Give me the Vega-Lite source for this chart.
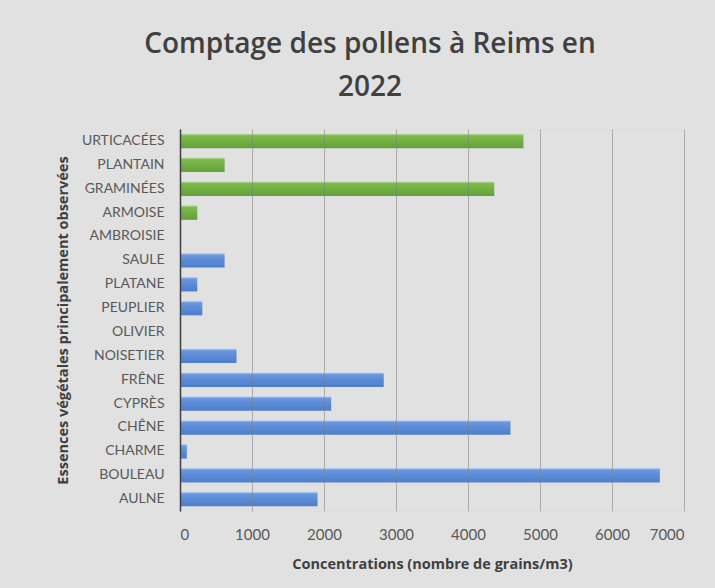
{
  "$schema": "https://vega.github.io/schema/vega-lite/v6.json",
  "autosize": "none",
  "width": 504,
  "height": 382,
  "padding": {"left": 180, "top": 129, "right": 31, "bottom": 77},
  "background": "#e1e1e1",
  "title": {
    "text": ["Comptage des pollens à Reims en", "2022"],
    "anchor": "middle",
    "frame": "group",
    "dx": -62,
    "offset": 27,
    "font": "Open Sans",
    "fontSize": 28,
    "fontWeight": 600,
    "color": "#404040",
    "lineHeight": 43
  },
  "data": {
    "values": [
      {"essence": "URTICACÉES", "concentration": 4770, "groupe": "h"},
      {"essence": "PLANTAIN", "concentration": 620, "groupe": "h"},
      {"essence": "GRAMINÉES", "concentration": 4365, "groupe": "h"},
      {"essence": "ARMOISE", "concentration": 240, "groupe": "h"},
      {"essence": "AMBROISIE", "concentration": 0, "groupe": "h"},
      {"essence": "SAULE", "concentration": 620, "groupe": "a"},
      {"essence": "PLATANE", "concentration": 240, "groupe": "a"},
      {"essence": "PEUPLIER", "concentration": 310, "groupe": "a"},
      {"essence": "OLIVIER", "concentration": 0, "groupe": "a"},
      {"essence": "NOISETIER", "concentration": 785, "groupe": "a"},
      {"essence": "FRÊNE", "concentration": 2830, "groupe": "a"},
      {"essence": "CYPRÈS", "concentration": 2100, "groupe": "a"},
      {"essence": "CHÊNE", "concentration": 4590, "groupe": "a"},
      {"essence": "CHARME", "concentration": 95, "groupe": "a"},
      {"essence": "BOULEAU", "concentration": 6665, "groupe": "a"},
      {"essence": "AULNE", "concentration": 1910, "groupe": "a"}
    ]
  },
  "mark": {"type": "bar", "cornerRadius": 0},
  "encoding": {
    "y": {
      "field": "essence",
      "type": "nominal",
      "sort": null,
      "scale": {"paddingInner": 0.39, "paddingOuter": 0.195},
      "axis": {
        "title": "Essences végétales principalement observées",
        "titleFont": "Open Sans",
        "titleFontSize": 14.5,
        "titleFontWeight": "bold",
        "titleColor": "#404040",
        "titlePadding": 11,
        "labelFont": "Lato",
        "labelFontSize": 14,
        "labelColor": "#595959",
        "labelPadding": 16,
        "ticks": false,
        "domain": true,
        "domainColor": "#404040",
        "domainWidth": 1.5,
        "grid": false,
        "zindex": 1
      }
    },
    "x": {
      "field": "concentration",
      "type": "quantitative",
      "scale": {"domain": [0, 7000], "nice": false},
      "axis": {
        "title": "Concentrations (nombre de grains/m3)",
        "values": [0, 1000, 2000, 3000, 4000, 5000, 6000, 7000],
        "format": "d",
        "titleFont": "Open Sans",
        "titleFontSize": 14.5,
        "titleFontWeight": "bold",
        "titleColor": "#404040",
        "titlePadding": 15,
        "labelFont": "Lato",
        "labelFontSize": 15,
        "labelColor": "#595959",
        "labelPadding": 16,
        "ticks": false,
        "domain": false,
        "grid": true,
        "gridColor": "#7f7f7f",
        "gridOpacity": 0.55,
        "gridWidth": 1,
        "zindex": 1
      }
    },
    "fill": {
      "condition": {
        "test": "datum.groupe === 'h'",
        "value": {
          "x1": 0, "y1": 0, "x2": 0, "y2": 1,
          "gradient": "linear",
          "stops": [
            {"offset": 0, "color": "#c4e3a6"},
            {"offset": 0.14, "color": "#7dbb4f"},
            {"offset": 0.5, "color": "#72b043"},
            {"offset": 1, "color": "#65a03b"}
          ]
        }
      },
      "value": {
        "x1": 0, "y1": 0, "x2": 0, "y2": 1,
        "gradient": "linear",
        "stops": [
          {"offset": 0, "color": "#c5d8f5"},
          {"offset": 0.14, "color": "#6b99df"},
          {"offset": 0.5, "color": "#5b8ad6"},
          {"offset": 1, "color": "#4f7fcc"}
        ]
      }
    }
  }
}
